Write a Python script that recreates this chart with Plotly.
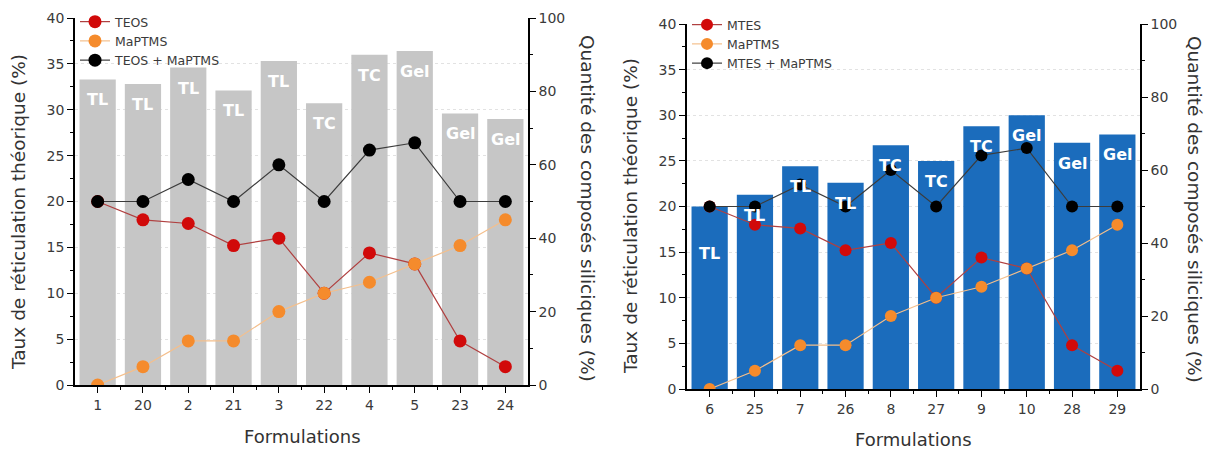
import plotly.graph_objects as go

# ---------------- data ----------------
cats_left = ["1", "20", "2", "21", "3", "22", "4", "5", "23", "24"]
cats_right = ["6", "25", "7", "26", "8", "27", "9", "10", "28", "29"]

bars_left = [33.3, 32.8, 34.6, 32.1, 35.3, 30.7, 36.0, 36.4, 29.6, 29.0]
bars_right = [20.0, 21.3, 24.4, 22.6, 26.7, 25.0, 28.8, 30.0, 27.0, 27.9]

labels_left = ["TL", "TL", "TL", "TL", "TL", "TC", "TC", "Gel", "Gel", "Gel"]
labels_right = ["TL", "TL", "TL", "TL", "TC", "TC", "TC", "Gel", "Gel", "Gel"]

teos = [50, 45, 44, 38, 40, 25, 36, 33, 12, 5]
maptms_left = [0, 5, 12, 12, 20, 25, 28, 33, 38, 45]
sum_left = [50, 50, 56, 50, 60, 50, 64, 66, 50, 50]

mtes = [50, 45, 44, 38, 40, 25, 36, 33, 12, 5]
maptms_right = [0, 5, 12, 12, 20, 25, 28, 33, 38, 45]
sum_right = [50, 50, 56, 50, 60, 50, 64, 66, 50, 50]

# ---------------- styling ----------------
FONT = "DejaVu Sans"
TICKC = "#3a3a3a"
RED_M, RED_L = "#d10a0a", "#b04040"
ORA_M, ORA_L = "#f58b2c", "#f4bf8c"
BLK_M, BLK_L = "#000000", "#3c3c3c"
GREY_BAR = "#c6c6c6"
BLUE_BAR = "#1b6cbc"
LABEL_SHIFT = -9              # px below bar top for the bar labels
EXTRA_DROP_RIGHT = {0: 26}    # first right-hand label sits lower in the original

xs_left = list(range(len(cats_left)))
xs_right = list(range(len(cats_right)))
minor_left = [i + 0.5 for i in xs_left[:-1]]
minor_right = [i + 0.5 for i in xs_right[:-1]]

W, H = 1214, 450
fig = go.Figure()


def add_panel(xs, bars, labels, s1, s2, s3, names, bar_color, xa, ya, ya2, leg, msize, drops):
    fig.add_trace(go.Bar(
        x=xs, y=bars, width=0.8, marker=dict(color=bar_color, line=dict(width=0)),
        showlegend=False, hoverinfo="skip", xaxis=xa, yaxis=ya))
    fig.add_trace(go.Scatter(
        x=xs, y=s1, mode="lines+markers", name=names[0],
        line=dict(color=RED_L, width=1.2), marker=dict(color=RED_M, size=msize),
        xaxis=xa, yaxis=ya2, legend=leg))
    fig.add_trace(go.Scatter(
        x=xs, y=s2, mode="lines+markers", name=names[1],
        line=dict(color=ORA_L, width=1.2), marker=dict(color=ORA_M, size=msize),
        xaxis=xa, yaxis=ya2, legend=leg))
    fig.add_trace(go.Scatter(
        x=xs, y=s3, mode="lines+markers", name=names[2],
        line=dict(color=BLK_L, width=1.2), marker=dict(color=BLK_M, size=msize),
        xaxis=xa, yaxis=ya2, legend=leg))
    for i, (xv, yv, lab) in enumerate(zip(xs, bars, labels)):
        fig.add_annotation(
            x=xv, y=yv, xref=xa, yref=ya, text=lab, showarrow=False,
            xanchor="center", yanchor="top", yshift=LABEL_SHIFT - drops.get(i, 0),
            font=dict(color="white", size=16, family=FONT, weight="bold"))


add_panel(xs_left, bars_left, labels_left, teos, maptms_left, sum_left,
          ["TEOS", "MaPTMS", "TEOS + MaPTMS"], GREY_BAR, "x", "y", "y2", "legend", 13, {})
add_panel(xs_right, bars_right, labels_right, mtes, maptms_right, sum_right,
          ["MTES", "MaPTMS", "MTES + MaPTMS"], BLUE_BAR, "x2", "y3", "y4", "legend2", 12,
          EXTRA_DROP_RIGHT)


def xaxis(domain, anchor, ticktext, minor_vals):
    return dict(domain=domain, anchor=anchor, range=[-0.5, 9.5],
                tickmode="array", tickvals=list(range(len(ticktext))), ticktext=ticktext,
                ticks="outside", ticklen=6, tickwidth=1.3, tickcolor="black",
                minor=dict(tickmode="array", tickvals=minor_vals, ticklen=3,
                           tickwidth=1.2, tickcolor="black", showgrid=False),
                showline=True, linecolor="black", linewidth=1.5,
                showgrid=False, zeroline=False,
                tickfont=dict(family=FONT, size=14, color=TICKC))


def yleft(domain, anchor):
    return dict(domain=domain, anchor=anchor, range=[0, 40], dtick=5, tick0=0,
                ticks="outside", ticklen=6, tickwidth=1.3, tickcolor="black",
                minor=dict(dtick=2.5, tick0=0, ticklen=3, tickwidth=1.2,
                           tickcolor="black", showgrid=False),
                showline=True, linecolor="black", linewidth=1.5,
                showgrid=True, gridcolor="#e2e2e2", griddash="dot", gridwidth=1,
                zeroline=False,
                tickfont=dict(family=FONT, size=14, color=TICKC))


def yright(over, anchor):
    return dict(overlaying=over, anchor=anchor, side="right", range=[0, 100],
                dtick=20, tick0=0,
                ticks="outside", ticklen=6, tickwidth=1.3, tickcolor="black",
                minor=dict(dtick=10, tick0=0, ticklen=3, tickwidth=1.2,
                           tickcolor="black", showgrid=False),
                showline=True, linecolor="black", linewidth=1.5,
                showgrid=False, zeroline=False,
                tickfont=dict(family=FONT, size=14, color=TICKC))


fig.update_layout(
    width=W, height=H, margin=dict(l=0, r=0, t=0, b=0, autoexpand=False),
    paper_bgcolor="white", plot_bgcolor="white",
    font=dict(family=FONT, color=TICKC),
    barmode="overlay",
    xaxis=xaxis([75 / W, 528 / W], "y", cats_left, minor_left),
    yaxis=yleft([(H - 385) / H, (H - 18) / H], "x"),
    yaxis2=yright("y", "x"),
    xaxis2=xaxis([687 / W, 1140 / W], "y3", cats_right, minor_right),
    yaxis3=yleft([(H - 389) / H, (H - 24) / H], "x2"),
    yaxis4=yright("y3", "x2"),
    legend=dict(x=75 / W, y=(H - 7) / H, xanchor="left", yanchor="top",
                bgcolor="rgba(0,0,0,0)", font=dict(family=FONT, size=12.5, color=TICKC),
                tracegroupgap=0, itemwidth=30),
    legend2=dict(x=687 / W, y=(H - 10) / H, xanchor="left", yanchor="top",
                 bgcolor="rgba(0,0,0,0)", font=dict(family=FONT, size=12.5, color=TICKC),
                 tracegroupgap=0, itemwidth=30),
)

vfont = dict(family=FONT, size=18.5, color="#333333")
hfont = dict(family=FONT, size=18, color="#333333")
annots = [
    dict(text="Taux de réticulation théorique (%)", x=18 / W, y=(H - 212) / H, textangle=-90, font=vfont),
    dict(text="Quantité des composés siliciques (%)", x=588 / W, y=(H - 208) / H, textangle=90, font=vfont),
    dict(text="Formulations", x=302 / W, y=(H - 436) / H, textangle=0, font=hfont),
    dict(text="Taux de réticulation théorique (%)", x=630 / W, y=(H - 216) / H, textangle=-90, font=vfont),
    dict(text="Quantité des composés siliciques (%)", x=1195 / W, y=(H - 209) / H, textangle=90, font=vfont),
    dict(text="Formulations", x=913 / W, y=(H - 439) / H, textangle=0, font=hfont),
]
for a in annots:
    fig.add_annotation(xref="paper", yref="paper", showarrow=False,
                       xanchor="center", yanchor="middle", **a)

fig.write_html(
    "out.html",
    config={"displayModeBar": False},
    post_script="document.body.style.margin='0px';document.body.style.overflow='hidden';",
)
